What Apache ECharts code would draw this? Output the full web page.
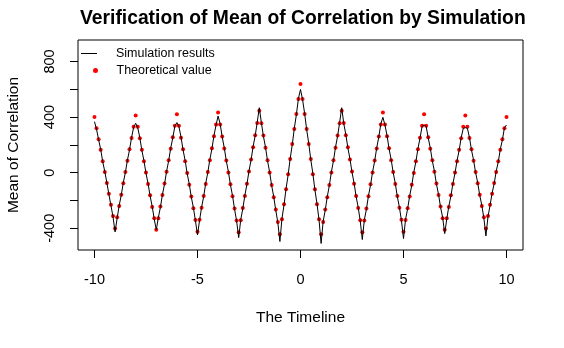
<!DOCTYPE html>
<html>
<head>
<meta charset="utf-8">
<script src="https://cdn.jsdelivr.net/npm/echarts@6/dist/echarts.min.js"></script>
<style>
  html, body { margin: 0; padding: 0; background: #fff; }
  #chart { width: 564px; height: 348px; }
</style>
</head>
<body>
<div id="chart"></div>
<script>
// time points, step 0.1
const timeline = [
  -10, -9.9, -9.8, -9.7, -9.6, -9.5, -9.4, -9.3, -9.2, -9.1,
  -9, -8.9, -8.8, -8.7, -8.6, -8.5, -8.4, -8.3, -8.2, -8.1,
  -8, -7.9, -7.8, -7.7, -7.6, -7.5, -7.4, -7.3, -7.2, -7.1,
  -7, -6.9, -6.8, -6.7, -6.6, -6.5, -6.4, -6.3, -6.2, -6.1,
  -6, -5.9, -5.8, -5.7, -5.6, -5.5, -5.4, -5.3, -5.2, -5.1,
  -5, -4.9, -4.8, -4.7, -4.6, -4.5, -4.4, -4.3, -4.2, -4.1,
  -4, -3.9, -3.8, -3.7, -3.6, -3.5, -3.4, -3.3, -3.2, -3.1,
  -3, -2.9, -2.8, -2.7, -2.6, -2.5, -2.4, -2.3, -2.2, -2.1,
  -2, -1.9, -1.8, -1.7, -1.6, -1.5, -1.4, -1.3, -1.2, -1.1,
  -1, -0.9, -0.8, -0.7, -0.6, -0.5, -0.4, -0.3, -0.2, -0.1,
  0, 0.1, 0.2, 0.3, 0.4, 0.5, 0.6, 0.7, 0.8, 0.9,
  1, 1.1, 1.2, 1.3, 1.4, 1.5, 1.6, 1.7, 1.8, 1.9,
  2, 2.1, 2.2, 2.3, 2.4, 2.5, 2.6, 2.7, 2.8, 2.9,
  3, 3.1, 3.2, 3.3, 3.4, 3.5, 3.6, 3.7, 3.8, 3.9,
  4, 4.1, 4.2, 4.3, 4.4, 4.5, 4.6, 4.7, 4.8, 4.9,
  5, 5.1, 5.2, 5.3, 5.4, 5.5, 5.6, 5.7, 5.8, 5.9,
  6, 6.1, 6.2, 6.3, 6.4, 6.5, 6.6, 6.7, 6.8, 6.9,
  7, 7.1, 7.2, 7.3, 7.4, 7.5, 7.6, 7.7, 7.8, 7.9,
  8, 8.1, 8.2, 8.3, 8.4, 8.5, 8.6, 8.7, 8.8, 8.9,
  9, 9.1, 9.2, 9.3, 9.4, 9.5, 9.6, 9.7, 9.8, 9.9,
  10
];

// black line
const simulated = [
  367, 312, 238, 168, 79, 8, -70, -157, -236, -318,
  -426, -327, -235, -162, -71, 2, 91, 163, 253, 326,
  355, 324, 252, 160, 87, -4, -77, -168, -241, -333,
  -412, -322, -249, -156, -83, 10, 85, 177, 250, 333,
  360, 331, 257, 163, 88, -7, -82, -176, -250, -346,
  -448, -343, -248, -172, -76, 0, 95, 171, 267, 342,
  407, 352, 256, 179, 83, 7, -89, -165, -262, -348,
  -467, -337, -259, -162, -84, 13, 90, 188, 265, 363,
  467, 361, 262, 184, 85, 6, -93, -172, -270, -359,
  -495, -330, -232, -114, -16, 103, 201, 319, 417, 535,
  598, 526, 427, 309, 211, 93, -6, -124, -222, -340,
  -509, -349, -270, -172, -93, 6, 85, 184, 262, 361,
  467, 353, 275, 178, 100, 3, -74, -172, -249, -347,
  -481, -338, -262, -165, -89, 7, 83, 179, 256, 352,
  398, 342, 267, 171, 95, 0, -76, -172, -248, -343,
  -474, -335, -260, -166, -91, 3, 78, 173, 247, 332,
  343, 333, 250, 177, 84, 11, -83, -156, -249, -322,
  -438, -333, -241, -168, -76, -4, 88, 160, 253, 318,
  324, 320, 254, 163, 91, 0, -71, -163, -234, -326,
  -455, -317, -236, -147, -79, 10, 78, 169, 236, 324,
  343
];

// red points
const theoretical = [
  400, 319, 241, 164, 83, 5, -74, -152, -231, -312,
  -402, -321, -239, -158, -76, 5, 86, 168, 249, 331,
  412, 330, 248, 165, 83, 1, -81, -163, -246, -328,
  -410, -327, -244, -161, -78, 6, 89, 172, 255, 338,
  421, 337, 252, 168, 83, -2, -86, -171, -255, -340,
  -424, -338, -253, -167, -81, 5, 90, 176, 262, 347,
  433, 347, 261, 174, 88, 2, -84, -170, -257, -343,
  -429, -342, -254, -167, -79, 8, 95, 183, 270, 358,
  445, 356, 267, 179, 90, 1, -88, -177, -265, -354,
  -443, -335, -227, -119, -11, 98, 206, 314, 422, 530,
  638, 530, 422, 314, 206, 98, -11, -119, -227, -335,
  -443, -354, -265, -177, -88, 1, 90, 179, 267, 356,
  445, 358, 270, 183, 95, 8, -79, -167, -254, -342,
  -429, -343, -257, -170, -84, 2, 88, 174, 261, 347,
  433, 347, 262, 176, 90, 5, -81, -167, -253, -338,
  -424, -340, -255, -171, -86, -2, 83, 168, 252, 337,
  421, 338, 255, 172, 89, 6, -78, -161, -244, -327,
  -410, -328, -246, -163, -81, 1, 83, 165, 248, 330,
  412, 331, 249, 168, 86, 5, -76, -158, -239, -321,
  -402, -312, -231, -152, -74, 5, 83, 164, 241, 319,
  400
];

const xTicks = [-10, -5, 0, 5, 10];
const yTicks = [-400, -200, 0, 200, 400, 600, 800];
const yLabels = [-400, 0, 400, 800];

const font = 'Liberation Sans, Arial, sans-serif';
const chart = echarts.init(document.getElementById('chart'));

chart.setOption({
  animation: false,
  backgroundColor: '#fff',
  title: {
    text: 'Verification of Mean of Correlation by Simulation',
    left: 80,
    top: 9,
    padding: 0,
    textStyle: { fontFamily: font, fontSize: 19.3, fontWeight: 'bold', color: '#000' }
  },
  legend: [
    {
      data: [{ name: 'Simulation results', icon: 'rect' }],
      left: 81,
      top: 47,
      padding: 0,
      itemWidth: 16,
      itemHeight: 1,
      textStyle: { fontFamily: font, fontSize: 12.5, color: '#000', padding: [0, 0, 0, 14] }
    },
    {
      data: [{ name: 'Theoretical value', icon: 'circle' }],
      left: 93,
      top: 64,
      padding: 0,
      itemWidth: 28,
      itemHeight: 5,
      textStyle: { fontFamily: font, fontSize: 12.5, color: '#000', padding: [0, 0, 0, 2] }
    }
  ],
  grid: {
    left: 78,
    right: 41,
    top: 40,
    bottom: 98,
    outerBoundsMode: 'none',
    containLabel: false,
    show: true,
    borderColor: '#000',
    borderWidth: 1
  },
  xAxis: {
    type: 'value',
    min: -10.8,
    max: 10.8,
    name: 'The Timeline',
    nameLocation: 'middle',
    nameGap: 60,
    nameTextStyle: { fontFamily: font, fontSize: 15.5, color: '#000' },
    axisLine: { show: false, onZero: false },
    splitLine: { show: false },
    axisTick: { show: true, length: 8, lineStyle: { color: '#000' }, customValues: xTicks },
    axisLabel: { fontFamily: font, fontSize: 14.5, color: '#000', margin: 22, customValues: xTicks }
  },
  yAxis: {
    type: 'value',
    min: -556,
    max: 954,
    name: 'Mean of Correlation',
    nameLocation: 'middle',
    nameGap: 56,
    nameTextStyle: { fontFamily: font, fontSize: 15.5, color: '#000' },
    axisLine: { show: false, onZero: false },
    splitLine: { show: false },
    axisTick: { show: true, length: 8, lineStyle: { color: '#000' }, customValues: yTicks },
    axisLabel: { fontFamily: font, fontSize: 14.5, color: '#000', margin: 21, rotate: 90, customValues: yLabels }
  },
  series: [
    {
      name: 'Simulation results',
      type: 'line',
      data: timeline.map((t, i) => [t, simulated[i]]),
      symbol: 'none',
      showSymbol: false,
      lineStyle: { color: '#000', width: 1 },
      itemStyle: { color: '#000' }
    },
    {
      name: 'Theoretical value',
      type: 'scatter',
      data: timeline.map((t, i) => [t, theoretical[i]]),
      symbol: 'circle',
      symbolSize: 4,
      itemStyle: { color: '#ff0000', opacity: 1 }
    }
  ]
});
</script>
</body>
</html>
